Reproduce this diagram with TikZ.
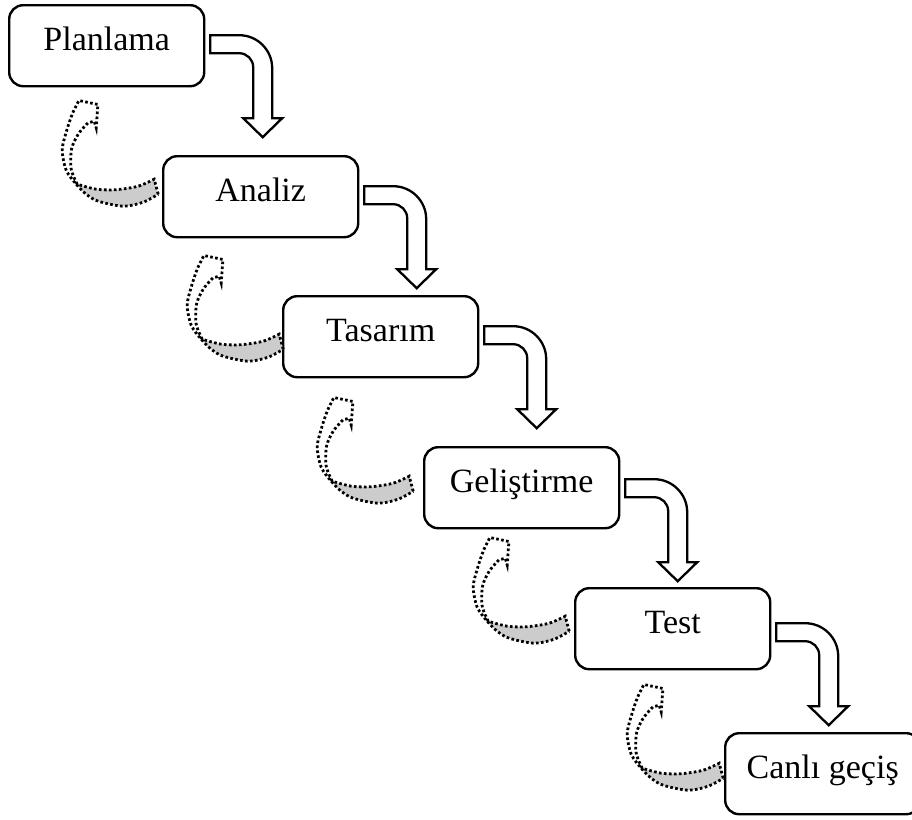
\documentclass[tikz,border=0pt]{standalone}
\usepackage{fontspec}
\setmainfont{Liberation Serif}
\usetikzlibrary{calc}
\tikzset{
  stage/.style={draw, line width=2.4pt, rounded corners=14pt, minimum width=195pt,
    minimum height=81pt, outer sep=0pt, inner sep=0pt, text height=23pt, text depth=14pt,
    font=\fontsize{34}{40}\selectfont, anchor=north west},
  dotline/.style={line width=2.8pt, line cap=butt, dash pattern=on 2.6pt off 2.4pt},
  bentarrow/.pic={
    \draw[line width=2.3pt, line join=miter, fill=white]
      (6,30) -- (35,30) .. controls (53.2,30) and (68,44.8) .. (68,63)
      -- (68,113) -- (78,113) -- (58.5,132) -- (39,113) -- (49,113) -- (49,62)
      .. controls (49,54.3) and (42.7,48) .. (35,48) -- (6,48) -- cycle;
  },
  backarrow/.pic={
    \fill[black!20] (0,0) -- (-4,-15)
      -- plot[smooth] coordinates {(-4,-15) (-20,-8) (-42,-4.5) (-62,-5) (-81,-10)}
      -- plot[smooth] coordinates {(-82,-10) (-72,0) (-60,7) (-35,12) (-15,8) (0,0)} -- cycle;
    \draw[dotline] (0,0) -- (-4,-15)
      -- plot[smooth] coordinates {(-4,-15) (-20,-8) (-42,-4.5) (-62,-5) (-81,-10)}
      -- plot[smooth] coordinates {(-81,-10) (-87,-25) (-86.7,-45) (-80,-60) (-70.3,-71.3)}
      -- (-64,-73) -- (-62,-66.3) -- (-60.3,-89.7) -- (-79.3,-93.7)
      -- plot[smooth] coordinates {(-79.3,-93.7) (-86,-80) (-92,-62) (-96,-44) (-92,-24)
         (-82,-10) (-72,0) (-60,7) (-35,12) (-15,8) (0,0)} -- cycle;
  }
}
\begin{document}
\begin{tikzpicture}[x=1pt, y=-1pt]
\clip (0,0) rectangle (912,819);
\fill[white] (0,0) rectangle (912,819);
\node[stage] (b1) at (9.2,5.2) {Planlama};
\node[stage] (b2) at (163.2,156.2) {Analiz};
\node[stage] (b3) at (283.2,296.2) {Tasarım};
\node[stage] (b4) at (424.2,447.2) {Geliştirme};
\node[stage] (b5) at (575.2,588.2) {Test};
\node[stage] (b6) at (725.2,733.2) {Canlı geçiş};
\pic at (b1.north east) {bentarrow};
\pic at (b2.north east) {bentarrow};
\pic at (b3.north east) {bentarrow};
\pic at ($(b4.north east)+(0,2)$) {bentarrow};
\pic at ($(b5.north east)+(0,5)$) {bentarrow};
\pic at ($(b2.north west)+(-5,38)$) {backarrow};
\pic at ($(b3.north west)+(0,53)$) {backarrow};
\pic at ($(b4.north west)+(-11,44)$) {backarrow};
\pic at ($(b5.north west)+(-6,43)$) {backarrow};
\pic at ($(b6.north west)+(-2,45)$) {backarrow};
\end{tikzpicture}
\end{document}
